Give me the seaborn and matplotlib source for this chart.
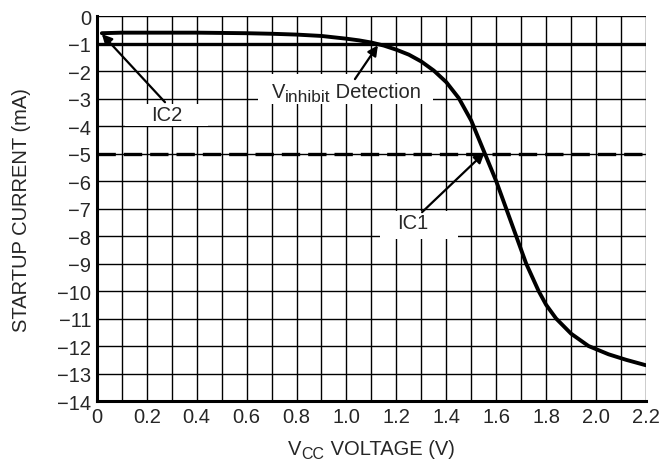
import matplotlib
matplotlib.use("Agg")
import matplotlib.pyplot as plt
from matplotlib.patches import Rectangle
from matplotlib.transforms import IdentityTransform
import seaborn as sns
import numpy as np
import pandas as pd

# Data
vcc = [0.02, 0.1, 0.2, 0.3, 0.4, 0.5, 0.6, 0.7, 0.8, 0.9, 1.0, 1.05, 1.1, 1.15, 1.2, 1.25, 1.3, 1.35, 1.4, 1.45,
       1.5, 1.55, 1.6, 1.64, 1.68, 1.72, 1.77, 1.8, 1.84, 1.9, 1.97, 2.05, 2.12, 2.2]
current = [-0.62, -0.6, -0.6, -0.6, -0.6, -0.61, -0.62, -0.64, -0.67, -0.72, -0.82, -0.88, -0.96, -1.07, -1.22,
           -1.4, -1.65, -1.98, -2.4, -2.98, -3.8, -4.9, -6.0, -7.0, -8.0, -9.0, -10.0, -10.5, -11.0, -11.55,
           -12.0, -12.3, -12.5, -12.7]
vinhibit_level = -1.0
ic1_level = -5.0
x_ticks = [0, 0.2, 0.4, 0.6, 0.8, 1.0, 1.2, 1.4, 1.6, 1.8, 2.0, 2.2]
x_tick_labels = ["0", "0.2", "0.4", "0.6", "0.8", "1.0", "1.2", "1.4", "1.6", "1.8", "2.0", "2.2"]
y_ticks = list(range(0, -15, -1))
y_tick_labels = ["0"] + ["\u2212%d" % k for k in range(1, 15)]

sns.set_style("white")
plt.rcParams["font.family"] = ["Liberation Sans", "DejaVu Sans"]

FS = 14.5

fig = plt.figure(figsize=(6.68, 4.64), dpi=100)
ax = fig.add_axes([0.145, 0.1336, 0.822, 0.8294])

df = pd.DataFrame({"VCC": vcc, "I": current})

# grid
for xv in np.arange(0, 2.21, 0.1):
    ax.axvline(xv, color="black", lw=1.0, zorder=1)
for yv in y_ticks:
    ax.axhline(yv, color="black", lw=1.0, zorder=1)

ax.plot([0, 2.2], [vinhibit_level, vinhibit_level], color="black", lw=2.4, zorder=3)
ax.plot([0, 2.2], [ic1_level, ic1_level], color="black", lw=2.4, ls=(0, (5.5, 2.4)), zorder=3)

sns.lineplot(data=df, x="VCC", y="I", ax=ax, color="black", lw=2.8, zorder=4, sort=False)

ax.set_xlim(0, 2.2)
ax.set_ylim(-14, 0)
ax.set_xticks(x_ticks)
ax.set_xticklabels(x_tick_labels)
ax.set_yticks(y_ticks)
ax.set_yticklabels(y_tick_labels)
ax.tick_params(length=0, labelsize=FS, pad=4)
for s in ["left", "bottom"]:
    ax.spines[s].set_linewidth(2.2)
    ax.spines[s].set_color("black")
    ax.spines[s].set_zorder(6)
for s in ["top", "right"]:
    ax.spines[s].set_visible(False)

ax.set_xlabel("")
ax.set_ylabel("STARTUP CURRENT (mA)", fontsize=FS)
ax.yaxis.set_label_coords(-0.12, 0.5)

# label background boxes (data coords)
for (x0, x1, y0, y1) in [(0.112, 0.445, -4.0, -3.2), (0.645, 1.347, -3.2, -2.1), (1.134, 1.447, -8.1, -7.1)]:
    ax.add_patch(Rectangle((x0, y0), x1 - x0, y1 - y0, facecolor="white", edgecolor="none", zorder=4.5))

arrow = dict(arrowstyle="-|>", color="black", lw=1.6, mutation_scale=15, shrinkA=0, shrinkB=0)

ax.text(0.281, -3.56, "IC2", fontsize=FS, ha="center", va="center", zorder=5)
ax.annotate("", xy=(0.02, -0.65), xytext=(0.273, -3.13), arrowprops=arrow, zorder=5)
ax.annotate("", xy=(1.126, -1.06), xytext=(1.034, -2.29), arrowprops=arrow, zorder=5)
ax.text(1.266, -7.5, "IC1", fontsize=FS, ha="center", va="center", zorder=5)
ax.annotate("", xy=(1.553, -4.97), xytext=(1.303, -7.13), arrowprops=arrow, zorder=5)

# composed texts with larger subscripts (display pixel coordinates)
renderer = fig.canvas.get_renderer()


def compose(pieces, cx, base_y):
    items = []
    total = 0.0
    for s, fs, dy in pieces:
        t = fig.text(0, 0, s, fontsize=fs, transform=IdentityTransform(), ha="left", va="baseline")
        w = t.get_window_extent(renderer).width
        items.append((t, w, dy))
        total += w
    x = cx - total / 2.0
    for t, w, dy in items:
        t.set_position((x, base_y + dy))
        x += w


H = 464
compose([("V", FS, 0), ("inhibit", 12.4, -4), (" Detection", FS, 0)], 346.5, H - 98)
compose([("V", FS, 0), ("CC", 11.5, -4.5), (" VOLTAGE (V)", FS, 0)], 371.5, H - 455)

fig.savefig("out.png", dpi=100)
